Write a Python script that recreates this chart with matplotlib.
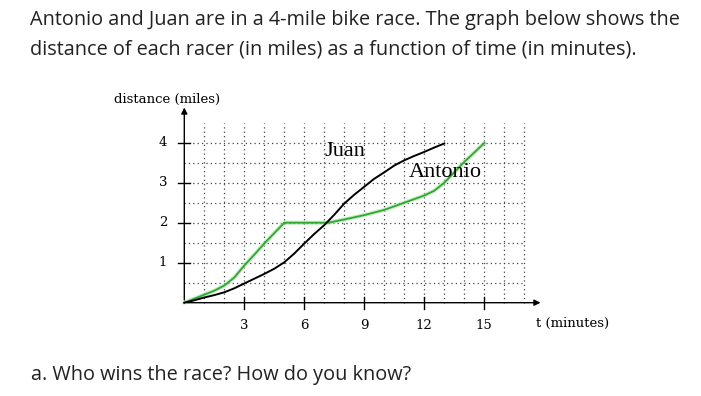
import numpy as np
import matplotlib.pyplot as plt

# distance (miles) vs time (minutes)
juan_t = [0, 0.5, 1, 1.5, 2, 2.5, 3, 3.5, 4, 4.5, 5, 5.5, 6, 6.5, 7, 7.5, 8, 8.5,
          9, 9.5, 10, 10.5, 11, 11.5, 12, 12.5, 13]
juan_d = [0, 0.06, 0.13, 0.19, 0.26, 0.36, 0.48, 0.6, 0.72, 0.85, 1.01, 1.23, 1.48, 1.72,
          1.94, 2.2, 2.48, 2.7, 2.9, 3.1, 3.26, 3.43, 3.56, 3.67, 3.77, 3.88, 3.98]
antonio_t = [0, 0.5, 1, 1.5, 2, 2.5, 3, 3.5, 4, 4.5, 5, 7.2, 8, 9, 10, 11, 12, 12.5,
             13, 13.5, 14, 15]
antonio_d = [0, 0.1, 0.2, 0.3, 0.43, 0.63, 0.93, 1.2, 1.48, 1.74, 2.0, 2.0, 2.08, 2.19,
             2.32, 2.5, 2.68, 2.8, 3.0, 3.26, 3.52, 3.99]
x_ticks = [3, 6, 9, 12, 15]
y_ticks = [1, 2, 3, 4]

serif = 'DejaVu Serif'
fig = plt.figure(figsize=(7.01, 3.96), dpi=100)
txt = dict(family='Open Sans', fontsize=14.3, color='#222222', va='center')
fig.text(30/701, 1 - 20/396, 'Antonio and Juan are in a 4-mile bike race. The graph below shows the', **txt)
fig.text(30/701, 1 - 50/396, 'distance of each racer (in miles) as a function of time (in minutes).', **txt)
fig.text(31/701, 1 - 375/396, 'a. Who wins the race? How do you know?', **txt)

ax = fig.add_axes([164.3/701, 1 - 342.7/396, 400/701, 260/396])
ax.set_xlim(-1, 19)
ax.set_ylim(-1, 5.5)
ax.axis('off')

# dotted grid
dot = dict(color='#444444', lw=0.9, ls=(0, (1, 2.5)))
for gx in range(1, 18):
    ax.plot([gx, gx], [0, 4.5], **dot)
for gy in np.arange(0.5, 4.01, 0.5):
    ax.plot([0, 17], [gy, gy], **dot)

# axes with arrows
ax.annotate('', xy=(17.95, 0), xytext=(0, 0),
            arrowprops=dict(arrowstyle='-|>', color='black', lw=1, mutation_scale=9))
ax.annotate('', xy=(0, 4.95), xytext=(0, 0),
            arrowprops=dict(arrowstyle='-|>', color='black', lw=1, mutation_scale=9))
for t in x_ticks:
    ax.plot([t, t], [-0.15, 0.15], color='black', lw=1)
    ax.text(t, -0.56, str(t), family=serif, fontsize=9.5, ha='center', va='center')
for d in y_ticks:
    ax.plot([-0.3, 0.3], [d, d], color='black', lw=1)
    ax.text(-0.85, d, str(d), family=serif, fontsize=9.5, ha='right', va='center')

ax.text(-0.87, 5.09, 'distance (miles)', family=serif, fontsize=9.5, ha='center', va='center')
ax.text(17.6, -0.53, 't (minutes)', family=serif, fontsize=9.5, ha='left', va='center')

ax.plot(antonio_t, antonio_d, color='#a8dea8', lw=3, alpha=0.6, solid_capstyle='round')
ax.plot(antonio_t, antonio_d, color='#2ea82e', lw=1.3)
ax.plot(juan_t, juan_d, color='black', lw=1.4)

ax.text(8.03, 3.78, 'Juan', family='Liberation Serif', fontsize=16, ha='center', va='center')
ax.text(13.03, 3.25, 'Antonio', family='Liberation Serif', fontsize=16, ha='center', va='center')

fig.savefig('out.png', dpi=100)
